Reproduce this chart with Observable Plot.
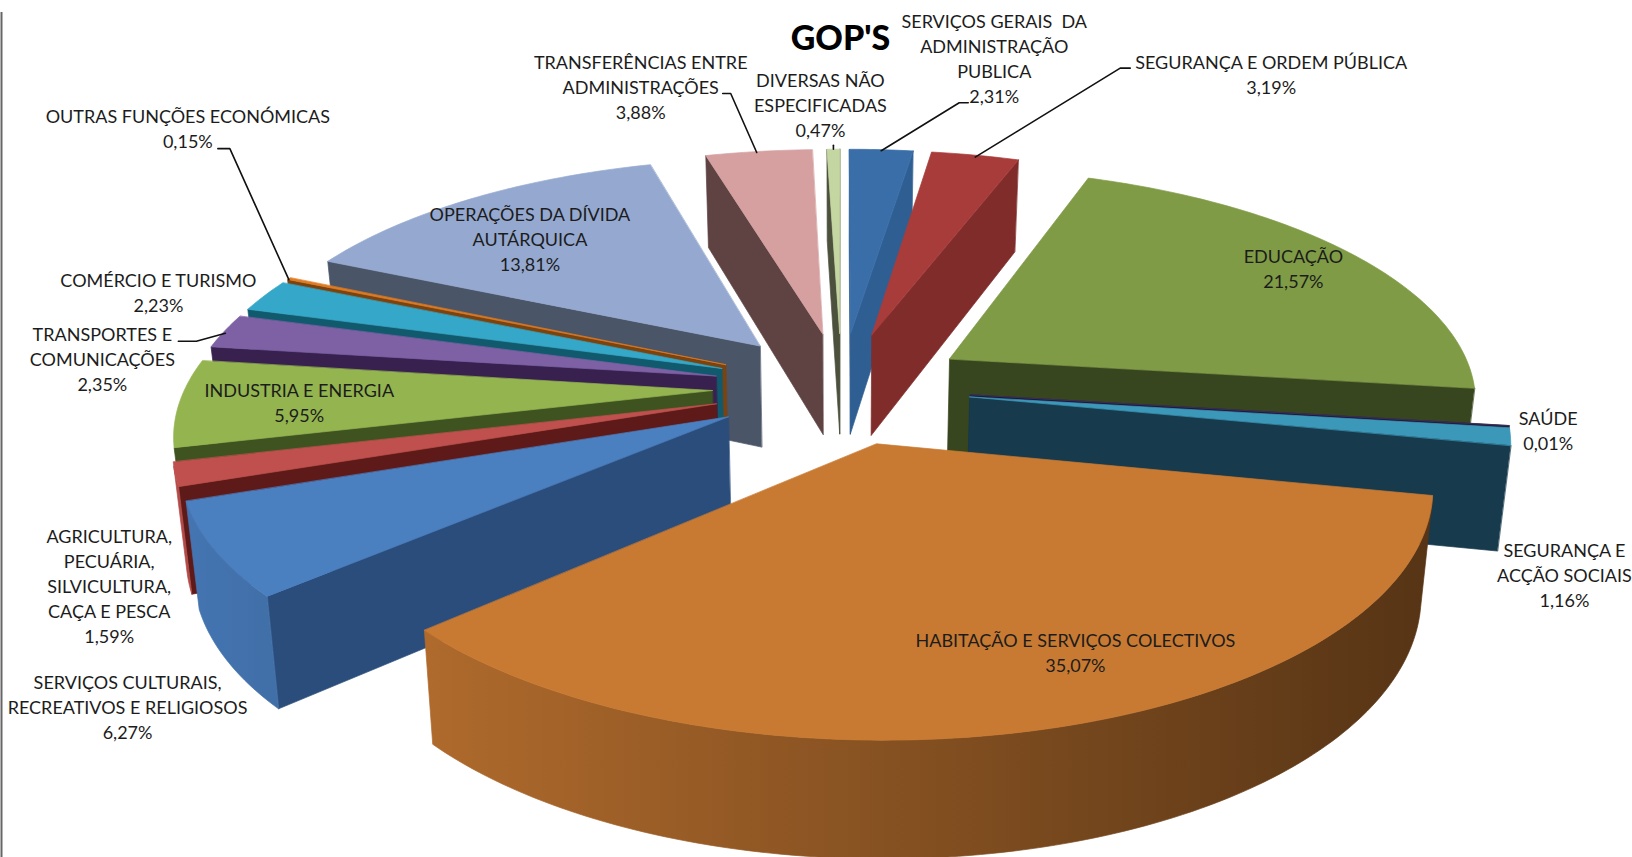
<!DOCTYPE html>
<html lang="pt">
<head>
<meta charset="utf-8">
<title>GOP'S</title>
<script src="https://cdn.jsdelivr.net/npm/d3@7"></script>
<script src="https://cdn.jsdelivr.net/npm/@observablehq/plot@0.6"></script>
<style>
html,body{margin:0;padding:0;background:#fff;overflow:hidden}
svg{display:block}
</style>
</head>
<body>
<div id="chart"></div>
<script>
// ---- data (clockwise from twelve o'clock) ----
const categories = [
  "SERVIÇOS GERAIS  DA\nADMINISTRAÇÃO\nPUBLICA",
  "SEGURANÇA E ORDEM PÚBLICA",
  "EDUCAÇÃO",
  "SAÚDE",
  "SEGURANÇA E\nACÇÃO SOCIAIS",
  "HABITAÇÃO E SERVIÇOS COLECTIVOS",
  "SERVIÇOS CULTURAIS,\nRECREATIVOS E RELIGIOSOS",
  "AGRICULTURA,\nPECUÁRIA,\nSILVICULTURA,\nCAÇA E PESCA",
  "INDUSTRIA E ENERGIA",
  "TRANSPORTES E\nCOMUNICAÇÕES",
  "COMÉRCIO E TURISMO",
  "OUTRAS FUNÇÕES ECONÓMICAS",
  "OPERAÇÕES DA DÍVIDA\nAUTÁRQUICA",
  "TRANSFERÊNCIAS ENTRE\nADMINISTRAÇÕES",
  "DIVERSAS NÃO\nESPECIFICADAS"
];
const values = [2.31, 3.19, 21.57, 0.01, 1.16, 35.07, 6.27, 1.59, 5.95, 2.35, 2.23, 0.15, 13.81, 3.88, 0.47];
const valueLabels = ["2,31%","3,19%","21,57%","0,01%","1,16%","35,07%","6,27%","1,59%","5,95%","2,35%","2,23%","0,15%","13,81%","3,88%","0,47%"];
const title = "GOP'S";

// ---- styles ----
const topColors  = ["#3a6ea8","#a83c3b","#7f9b45","#3b2f5c","#3c98b9","#c97a32","#4a7fc0","#c0504d","#93b44f","#7e60a5","#35a7c8","#e07b22","#95a9d0","#d6a0a0","#c4d6a2"];
const wallColors = ["#2f5e93","#7f2c2b","#37461f","#1f1a38","#173a4c","#6e421b","#2a4d7b","#5e1a19","#3f5320","#38204f","#115a6e","#7b4310","#4a5568","#5f4242","#4c513e"];

// ---- label placement, relative to each slice's outer mid point ----
const labelOffsets = [[113,-92],[296,-82],[-56,15],[39,4],[54,137],[21,-76],[-87,156],[-66,111],[120,-2],[-122,27],[-106,-4],[-101,-151],[59,39],[-118,-65],[-13,-45]];
const leaders = {
  0: [[0,1],[78,-47],[87,-47]],
  1: [[0,2],[145,-87],[155,-87]],
  9: [[1,2],[-28,10],[-46,10]],
  11: [[0,1],[-59,-130],[-71,-130]],
  13: [[-2,1],[-28,-58],[-36,-58]],
  14: [[0,-4],[0,0]]
};

// ---- view of the tilted, exploded pie ----
const view = {cx: 841, cy: 387, k: 527, tilt: 0.435, depth: 6.3, explode: 0.245, height: 103, shrink: 0.98};
const W = 1632, H = 857;

function project(X, Z) {
  const s = 1 / (1 + Z / view.depth);
  return {x: view.cx + view.k * X * s, y: view.cy - view.k * view.tilt * Z * s, s};
}
function lower(p) {
  return {x: view.cx + (p.x - view.cx) * view.shrink, y: p.y + view.height * Math.pow(p.s, 0.65)};
}
function shade(color, f) {
  const c = d3.rgb(color);
  return d3.rgb(c.r * f, c.g * f, c.b * f).formatHex();
}
function area2(pts) {
  let a = 0;
  pts.forEach((p, i) => { const q = pts[(i + 1) % pts.length]; a += p.x * q.y - q.x * p.y; });
  return a;
}
const wallShade = a => 0.68 - 0.26 * Math.sin(a);

const total = d3.sum(values);
let cum = 0;
const slices = values.map((v, i) => {
  const a0 = cum / total * 2 * Math.PI; cum += v;
  const a1 = cum / total * 2 * Math.PI;
  const mid = (a0 + a1) / 2;
  const ox = view.explode * Math.sin(mid), oz = view.explode * Math.cos(mid);
  const at = a => project(ox + Math.sin(a), oz + Math.cos(a));
  const n = Math.max(1, Math.ceil((a1 - a0) / (Math.PI / 180)));
  const arc = d3.range(n + 1).map(j => a0 + (a1 - a0) * j / n);
  return {i, a0, a1, mid, arc, at, apex: project(ox, oz), anchor: project((1 + view.explode) * Math.sin(mid), (1 + view.explode) * Math.cos(mid))};
});

const rows = [];
const gradients = [];
let polyId = 0;
function addPoly(pts, color) {
  const id = polyId++;
  pts.forEach(p => rows.push({id, x: p.x, y: p.y, color}));
}
function addWall(a, b, color) {
  const q = [a, b, lower(b), lower(a)];
  if (area2(q) < 0) addPoly(q, color);
}
[...slices].sort((a, b) => Math.cos(b.mid) - Math.cos(a.mid)).forEach(sl => {
  const top = topColors[sl.i], wall = wallColors[sl.i];
  addWall(sl.apex, sl.at(sl.a0), wall);
  addWall(sl.at(sl.a1), sl.apex, wall);
  // the visible run of the rounded outer wall, as one polygon with a left-to-right shade
  const seen = sl.arc.filter((a, j) => {
    const next = sl.arc[Math.min(j + 1, sl.arc.length - 1)], prev = sl.arc[Math.max(j - 1, 0)];
    const test = (u, v) => { const p = sl.at(u), q = sl.at(v); return u !== v && area2([p, q, lower(q), lower(p)]) < 0; };
    return test(a, next) || test(prev, a);
  });
  if (seen.length > 1) {
    const pts = seen.map(sl.at);
    const ends = d3.extent(seen, a => sl.at(a).x);
    const left = seen.reduce((m, a) => sl.at(a).x < sl.at(m).x ? a : m);
    const right = seen.reduce((m, a) => sl.at(a).x > sl.at(m).x ? a : m);
    const id = "wall" + sl.i;
    gradients.push({id, x1: ends[0], x2: ends[1], c1: shade(top, wallShade(left)), c2: shade(top, wallShade(right))});
    addPoly([...pts, ...pts.map(lower).reverse()], `url(#${id})`);
  }
  addPoly([sl.apex, ...sl.arc.map(sl.at)], top);
});

const labelRows = slices.map(sl => ({
  x: sl.anchor.x + labelOffsets[sl.i][0],
  y: sl.anchor.y + labelOffsets[sl.i][1],
  text: categories[sl.i] + "\n" + valueLabels[sl.i]
}));
const leaderRows = Object.entries(leaders).flatMap(([i, pts]) =>
  pts.map(([dx, dy]) => ({id: +i, x: slices[+i].anchor.x + dx, y: slices[+i].anchor.y + dy})));

const gradientDefs = (index, scales) => {
  const defs = d3.create("svg:defs");
  gradients.forEach(g => {
    const lg = defs.append("linearGradient").attr("id", g.id).attr("gradientUnits", "userSpaceOnUse")
      .attr("x1", scales.x(g.x1)).attr("x2", scales.x(g.x2)).attr("y1", 0).attr("y2", 0);
    lg.append("stop").attr("offset", 0).attr("stop-color", g.c1);
    lg.append("stop").attr("offset", 1).attr("stop-color", g.c2);
  });
  return defs.node();
};

const chart = Plot.plot({
  width: W, height: H,
  margin: 0,
  x: {domain: [0, W], range: [0, W], axis: null},
  y: {domain: [0, H], range: [0, H], axis: null},
  color: {type: "identity"},
  style: {background: "#fff"},
  marks: [
    gradientDefs,
    Plot.line(rows, {x: "x", y: "y", z: "id", fill: "color", stroke: "color", strokeWidth: 0.7, curve: "linear-closed"}),
    Plot.line(leaderRows, {x: "x", y: "y", z: "id", stroke: "#111", strokeWidth: 1.6}),
    Plot.ruleX([1], {y1: 12, y2: H, stroke: "#666", strokeWidth: 2}),
    Plot.text(labelRows, {x: "x", y: "y", text: "text", fontFamily: "Lato", fontSize: 18, lineHeight: 1.39, fill: "#1c1c1c", textAnchor: "middle"}),
    Plot.text([title], {x: () => 840, y: () => 39, text: d => d, fontFamily: "Lato", fontWeight: 900, fontSize: 34, fill: "#000"})
  ]
});
document.getElementById("chart").append(chart);
</script>
</body>
</html>
